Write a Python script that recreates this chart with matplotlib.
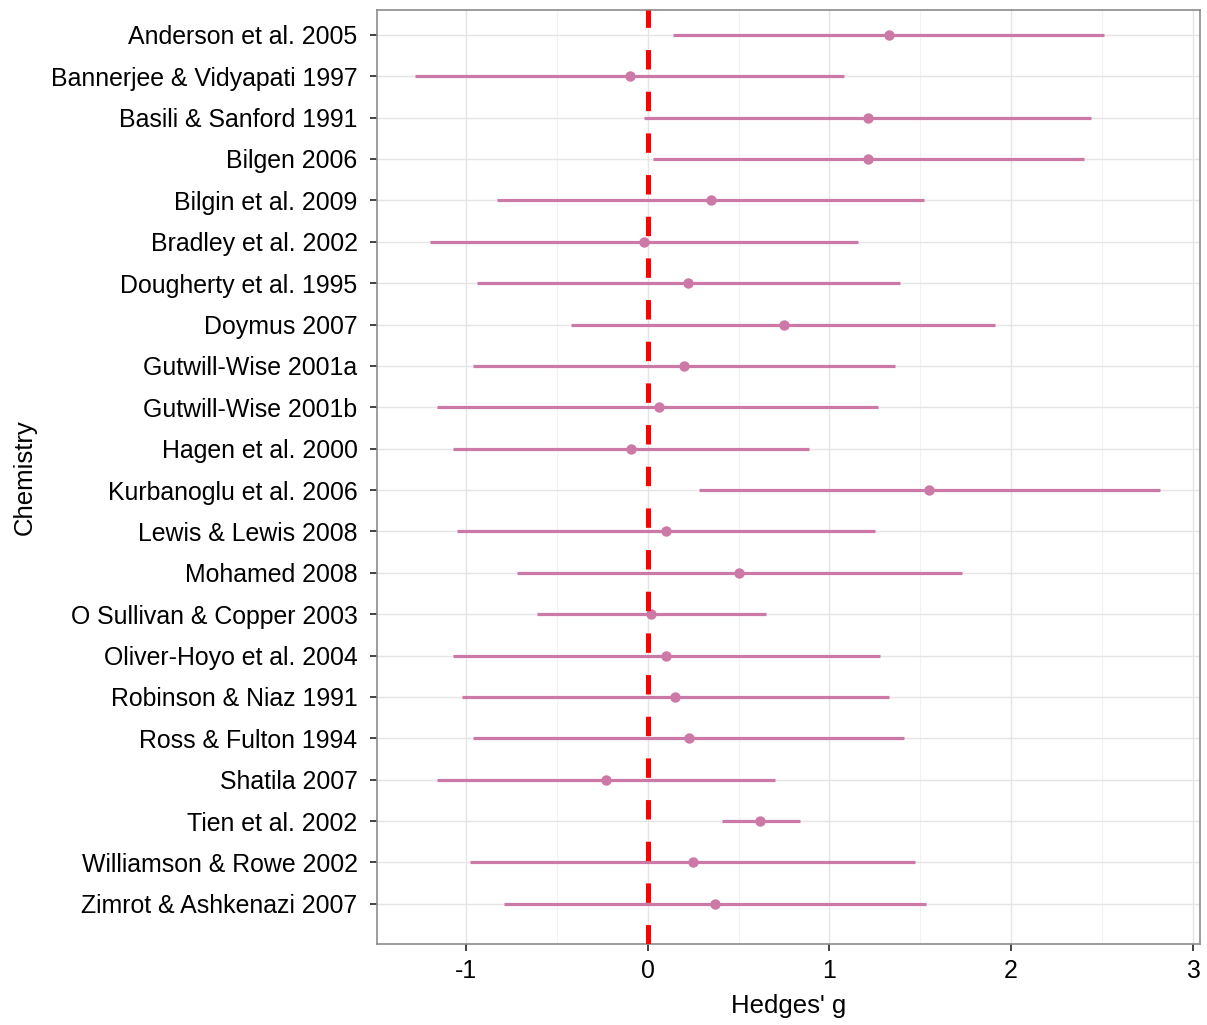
import numpy as np
import matplotlib
matplotlib.use("Agg")
from matplotlib import pyplot as plt
from matplotlib.ticker import MultipleLocator

plt.rcParams['font.family'] = ['Liberation Sans', 'DejaVu Sans']
plt.rcParams['lines.scale_dashes'] = False
plt.rcParams['axes.unicode_minus'] = False

# study labels, top to bottom
studies = [
    "Anderson et al. 2005", "Bannerjee & Vidyapati 1997", "Basili & Sanford 1991",
    "Bilgen 2006", "Bilgin et al. 2009", "Bradley et al. 2002",
    "Dougherty et al. 1995", "Doymus 2007", "Gutwill-Wise 2001a",
    "Gutwill-Wise 2001b", "Hagen et al. 2000", "Kurbanoglu et al. 2006",
    "Lewis & Lewis 2008", "Mohamed 2008", "O Sullivan & Copper 2003",
    "Oliver-Hoyo et al. 2004", "Robinson & Niaz 1991", "Ross & Fulton 1994",
    "Shatila 2007", "Tien et al. 2002", "Williamson & Rowe 2002",
    "Zimrot & Ashkenazi 2007",
]
# Hedges' g estimates and confidence limits
g = [1.33, -0.10, 1.21, 1.21, 0.35, -0.02, 0.22, 0.75, 0.20, 0.06, -0.09,
     1.55, 0.10, 0.50, 0.02, 0.10, 0.15, 0.23, -0.23, 0.62, 0.25, 0.37]
ci_low = [0.14, -1.28, -0.02, 0.03, -0.83, -1.20, -0.94, -0.42, -0.96, -1.16, -1.07,
          0.28, -1.05, -0.72, -0.61, -1.07, -1.02, -0.96, -1.16, 0.41, -0.98, -0.79]
ci_high = [2.51, 1.08, 2.44, 2.40, 1.52, 1.16, 1.39, 1.91, 1.36, 1.27, 0.89,
           2.82, 1.25, 1.73, 0.65, 1.28, 1.33, 1.41, 0.70, 0.84, 1.47, 1.53]

pink = "#CC79A7"

fig = plt.figure(figsize=(12.07, 10.25), dpi=100)
ax = fig.add_axes([377/1207, 81/1025, 823/1207, 934/1025])

y = np.arange(len(studies))
ax.hlines(y, ci_low, ci_high, color=pink, lw=2.3, zorder=3)
ax.plot(g, y, 'o', color=pink, ms=7.5, mec='none', zorder=4)
ax.axvline(0, color='red', lw=3.6, dashes=(14, 16), zorder=5)

ax.set_xlim(-1.49, 3.04)
ax.set_ylim(len(studies) - 1 + 0.97, -0.6)
ax.set_yticks(y)
ax.set_yticklabels(studies)
ax.xaxis.set_major_locator(MultipleLocator(1))
ax.xaxis.set_minor_locator(MultipleLocator(0.5))

ax.grid(which='major', color='#E5E5E5', lw=1.0, zorder=0)
ax.grid(which='minor', axis='x', color='#F2F2F2', lw=0.8, zorder=0)
ax.set_axisbelow(True)
ax.tick_params(which='minor', length=0)
ax.tick_params(which='major', length=5, width=1.2, color='#222222',
               labelsize=17.9, labelcolor='black', pad=6)
ax.tick_params(axis='y', pad=9)
for s in ax.spines.values():
    s.set_color('#8C8C8C')
    s.set_linewidth(1.2)

ax.set_xlabel("Hedges' g", fontsize=18.5, labelpad=8)
ax.set_ylabel("Chemistry", fontsize=18.5, labelpad=10)

fig.savefig("out.png", dpi=100)
